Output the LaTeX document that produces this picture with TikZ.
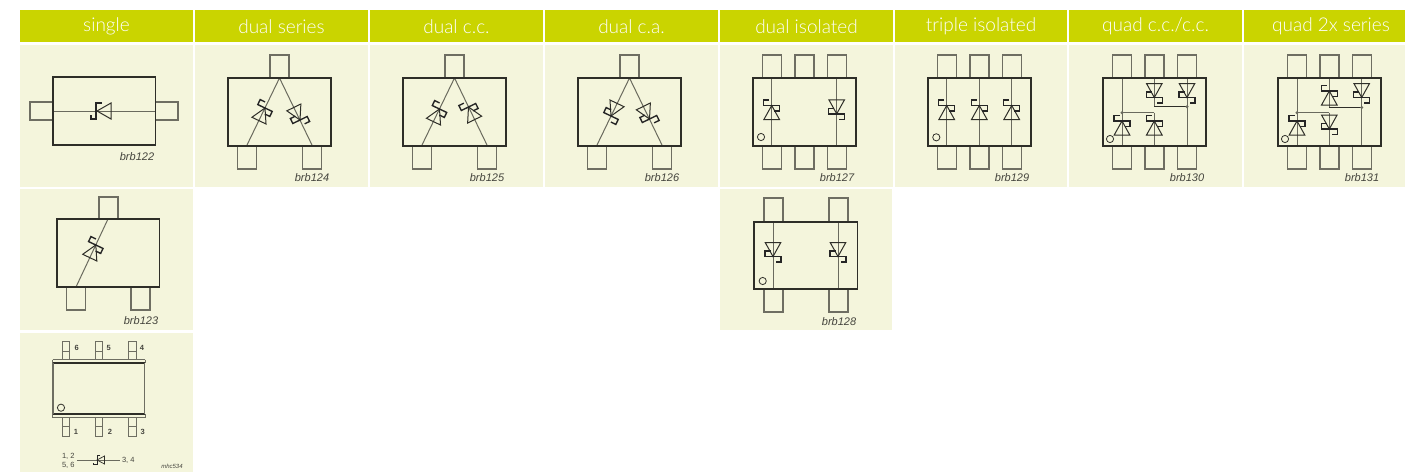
\documentclass[tikz,border=0pt]{standalone}
\usepackage{fontspec}
\setmainfont{Liberation Sans}
\newfontfamily\hdrfont{Lato Light}
\definecolor{hdrc}{HTML}{CAD400}
\definecolor{cellc}{HTML}{F4F5DC}
\definecolor{bodyc}{HTML}{2E2E28}
\definecolor{tabc}{HTML}{6E6E62}
\definecolor{leadc}{HTML}{6A6A5E}
\definecolor{labc}{HTML}{45453E}
\tikzset{
  hdrtext/.style={text=white,font=\hdrfont\fontsize{19}{21}\selectfont,inner sep=0pt},
  reflabel/.style={text=labc,font=\itshape\fontsize{11}{12}\selectfont,inner sep=0pt},
  pinlabel/.style={text=labc,font=\bfseries\fontsize{7.5}{8}\selectfont,inner sep=0pt},
  symlabel/.style={text=labc,font=\fontsize{7.5}{8}\selectfont,inner sep=0pt},
  pkgbody/.style={draw=bodyc,line width=1.6pt},
  pkgtab/.style={draw=tabc,line width=1.2pt},
  lead/.style={draw=leadc,line width=1pt},
  thinwire/.style={draw=bodyc,line width=.9pt},
  trianglesym/.style={draw=bodyc,line width=1pt},
  hooksym/.style={draw=black!85,line width=1.4pt},
  markcircle/.style={draw=bodyc,line width=.8pt},
  junction/.style={fill=leadc},
}
\newcommand\cellbox[4]{\fill[cellc] (#1,#2) rectangle (#3,#4);}
\newcommand\hdrbox[4]{\fill[hdrc] (#1,10) rectangle (#2,42);
  \node[hdrtext] (#4) at ({(#1+#2)/2},26.5) {#3};}
\newcommand\diode[4]{\begin{scope}[shift={(#1,#2)},rotate=#3]
  \draw[trianglesym] (0,0) -- (7.8,#4*14) -- (-7.8,#4*14) -- cycle;
  \draw[hooksym] (-2.5,-5.5) -- (-8,-5.5) -- (-8,0) -- (8,0) -- (8,5.5) -- (2.5,5.5);
\end{scope}}
\newcommand\pkgrect[2]{\draw[pkgbody] (#1,#2) rectangle ++(103,68);}
\newcommand\toptab[3]{\draw[pkgtab] ({#1+#2-9.5},#3) -- ++(0,-23) -- ++(19,0) -- ++(0,23);}
\newcommand\bottab[3]{\draw[pkgtab] ({#1+#2-9.5},{#3+68}) -- ++(0,23) -- ++(19,0) -- ++(0,-23);}
\newcommand\vlead[1]{\draw[lead] (#1,78) -- (#1,145);}
\newcommand\threetabs[1]{\toptab{#1}{19}{78}\toptab{#1}{51.5}{78}\toptab{#1}{84}{78}
  \bottab{#1}{19}{78}\bottab{#1}{51.5}{78}\bottab{#1}{84}{78}}
\newcommand\triotabs[1]{\toptab{#1}{51.5}{78}\bottab{#1}{19}{78}\bottab{#1}{84}{78}
  \draw[lead] ({#1+51.5},78) -- ({#1+19},145) ({#1+51.5},78) -- ({#1+84},145);}
\newcommand\pinone[2]{\draw[markcircle] (#1,#2) circle (3.6);}
\begin{document}
\begin{tikzpicture}[x=1pt,y=-1pt]
\useasboundingbox (0,0) rectangle (1405,472);
\hdrbox{20}{193}{single}{h1}
\hdrbox{195}{368}{dual series}{h2}
\hdrbox{370}{543}{dual c.c.}{h3}
\hdrbox{545}{718}{dual c.a.}{h4}
\hdrbox{720}{893}{dual isolated}{h5}
\hdrbox{895}{1067}{triple isolated}{h6}
\hdrbox{1069}{1242}{quad c.c./c.c.}{h7}
\fill[hdrc] (1244,10) rectangle (1405,42);
\node[hdrtext] (h8) at (1331,26.5) {quad 2x series};
\cellbox{20}{45}{193}{187}
\cellbox{195}{45}{368}{187}
\cellbox{370}{45}{543}{187}
\cellbox{545}{45}{718}{187}
\cellbox{720}{45}{893}{187}
\cellbox{895}{45}{1067}{187}
\cellbox{1069}{45}{1242}{187}
\cellbox{1244}{45}{1405}{187}
\cellbox{20}{189}{193}{330}
\cellbox{720}{189}{892}{330}
\cellbox{20}{332.5}{193}{472}
% brb122
\draw[lead] (53,111) -- (156,111);
\draw[pkgtab] (53,102) -- (30,102) -- (30,120) -- (53,120);
\draw[pkgtab] (156,102) -- (178,102) -- (178,120) -- (156,120);
\draw[pkgbody] (53,77) rectangle (155.5,145);
\draw[trianglesym] (97,111) -- (111,103) -- (111,119) -- cycle;
\draw[hooksym] (102,103) -- (96,103) -- (96,119) -- (91,119) -- (91,115);
\node[reflabel] (r122) at (137,157) {brb122};
% brb124
\triotabs{228}\pkgrect{228}{78}
\diode{265}{108}{-25.5}{1}
\diode{300}{120}{26}{-1}
\node[reflabel] (r124) at (312,178) {brb124};
% brb125
\triotabs{403}\pkgrect{403}{78}
\diode{439.5}{109}{-25.5}{1}
\diode{468.5}{107}{26}{1}
\node[reflabel] (r125) at (487,178) {brb125};
% brb126
\triotabs{578}\pkgrect{578}{78}
\diode{611}{116}{-25.5}{-1}
\diode{649.5}{119}{26}{-1}
\node[reflabel] (r126) at (662,178) {brb126};
% brb127
\threetabs{753}\vlead{771.7}\vlead{836.7}\pkgrect{753}{78}
\diode{771.7}{105.5}{0}{1}
\diode{836.7}{113.8}{0}{-1}
\pinone{761}{137}
\node[reflabel] (r127) at (837,178) {brb127};
% brb129
\threetabs{928}\vlead{946.7}\vlead{979.3}\vlead{1011.7}\pkgrect{928}{78}
\diode{946.7}{105.5}{0}{1}
\diode{979.3}{105.5}{0}{1}
\diode{1011.7}{105.5}{0}{1}
\pinone{936.3}{137.3}
\node[reflabel] (r129) at (1012,178) {brb129};
% brb130
\threetabs{1103}
\draw[lead] (1122,78) -- (1122,145) (1187,78) -- (1187,145) (1154.3,112.7) -- (1154.3,145);
\draw[lead] (1122,112.7) -- (1154.3,112.7);
\draw[lead] (1154.3,78) -- (1154.3,106.7);
\draw[thinwire] (1154.3,106.7) -- (1187,106.7);
\pkgrect{1103}{78}
\fill[junction] (1122,112.7) circle (1.7) (1187,106.7) circle (1.7);
\diode{1154.3}{97.5}{0}{-1}
\diode{1187}{97.5}{0}{-1}
\diode{1122}{121}{0}{1}
\diode{1154.3}{121}{0}{1}
\pinone{1110}{139}
\node[reflabel] (r130) at (1187,178) {brb130};
% brb131
\threetabs{1278}
\draw[lead] (1297,78) -- (1297,145) (1361.7,78) -- (1361.7,145) (1329.3,112.7) -- (1329.3,145);
\draw[lead] (1297,112.7) -- (1329.3,112.7);
\draw[lead] (1329.3,78) -- (1329.3,107.5);
\draw[thinwire] (1329.3,107.5) -- (1361.7,107.5);
\pkgrect{1278}{78}
\fill[junction] (1297,112.7) circle (1.7) (1361.7,107.5) circle (1.7);
\diode{1329.3}{91}{0}{1}
\diode{1361.7}{97.5}{0}{-1}
\diode{1297}{121}{0}{1}
\diode{1329.3}{129}{0}{-1}
\pinone{1285}{139}
\node[reflabel] (r131) at (1362,178) {brb131};
% brb123
\draw[pkgtab] (99,219) -- (99,197) -- (118,197) -- (118,219);
\draw[pkgtab] (66.5,287) -- (66.5,310) -- (85.5,310) -- (85.5,287);
\draw[pkgtab] (131,287) -- (131,310) -- (150,310) -- (150,287);
\draw[lead] (76,287) -- (108,219);
\draw[pkgbody] (57,219) rectangle (159.5,287);
\diode{95.8}{245}{-25.5}{1}
\node[reflabel] (r123) at (141,320.5) {brb123};
% brb128
\draw[pkgtab] (764,222) -- (764,198) -- (783,198) -- (783,222);
\draw[pkgtab] (829,222) -- (829,198) -- (848,198) -- (848,222);
\draw[pkgtab] (764,289) -- (764,312) -- (783,312) -- (783,289);
\draw[pkgtab] (829,289) -- (829,312) -- (848,312) -- (848,289);
\draw[lead] (773,222) -- (773,289) (838,222) -- (838,289);
\draw[pkgbody] (754,222) rectangle (857.5,289);
\diode{773}{256.5}{0}{-1}
\diode{838}{256.5}{0}{-1}
\pinone{762.7}{281}
\node[reflabel] (r128) at (839,322) {brb128};
% mhc534
\foreach \tx in {62,95,128.5}{
  \draw[pkgtab,line width=1pt] (\tx,359) -- (\tx,341) -- ++(7.5,0) -- ++(0,18);
  \draw[pkgtab,line width=.8pt] (\tx,351.7) -- ++(7.5,0);
  \draw[pkgtab,line width=1pt] (\tx,418) -- (\tx,436.7) -- ++(7.5,0) -- ++(0,-18.7);
  \draw[pkgtab,line width=.8pt] (\tx,426) -- ++(7.5,0);
}
\draw[tabc,line width=1pt] (52.7,359.5) -- (145,359.5);
\draw[pkgbody,line width=1.3pt] (53,363) -- (144.5,363) (53,414) -- (144.5,414);
\draw[tabc,line width=1pt] (52.7,417.5) -- (145,417.5);
\draw[tabc,line width=1pt] (52.7,359.5) -- (52.7,363) (145,359.5) -- (145,363) (52.7,414) -- (52.7,417.5) (145,414) -- (145,417.5);
\draw[tabc,line width=1.3pt] (53,363) -- (53,414) (144.5,363) -- (144.5,414);
\pinone{61}{407.7}
\node[pinlabel] (p6) at (76.7,348) {6};
\node[pinlabel] (p5) at (108.7,348) {5};
\node[pinlabel] (p4) at (142,348) {4};
\node[pinlabel] (p1) at (76,432) {1};
\node[pinlabel] (p2) at (110,432) {2};
\node[pinlabel] (p3) at (142.7,432) {3};
\node[symlabel] (s12) at (68.3,456.7) {1, 2};
\node[symlabel] (s56) at (68.3,465) {5, 6};
\node[symlabel] (s34) at (128.3,460) {3, 4};
\coordinate (wl) at (77,460);
\coordinate (wr) at (120,460);
\draw[lead,line width=.7pt] (wl) -- (wr);
\draw[trianglesym,line width=.7pt] (97,460) -- (104.5,456) -- (104.5,464) -- cycle;
\draw[hooksym,line width=.9pt] (100,455.5) -- (97,455.5) -- (97,464.5) -- (93.5,464.5) -- (93.5,462.5);
\node[text=labc,font=\itshape\fontsize{6}{6}\selectfont,inner sep=0pt] (r534) at (172,466.7) {mhc534};
\end{tikzpicture}
\end{document}
